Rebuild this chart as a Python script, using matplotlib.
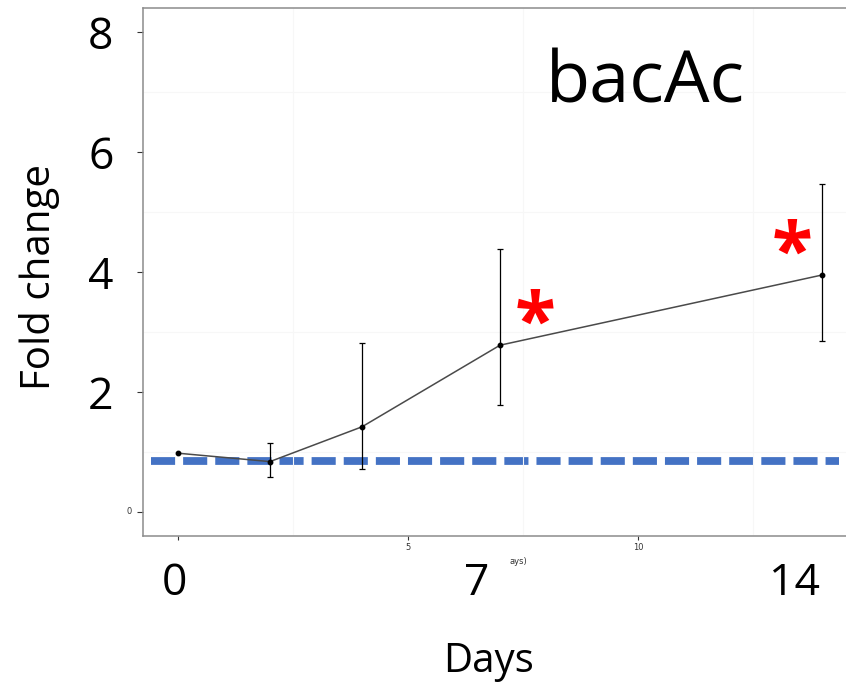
import numpy as np
import matplotlib
matplotlib.use('Agg')
import matplotlib.pyplot as plt

# Data
days = np.array([0, 2, 4, 7, 14])
fold = np.array([0.98, 0.84, 1.42, 2.78, 3.95])
err_lo = np.array([0.98, 0.58, 0.72, 1.78, 2.85])
err_hi = np.array([0.98, 1.15, 2.82, 4.38, 5.47])
baseline = 0.85

ytick_vals = [0, 2, 4, 6, 8]
ytick_big = ['', '2', '4', '6', '8']
xtick_vals = [0, 5, 10]
xtick_small = ['', '5', '10']
day_big = ['0', '7', '14']
day_big_pos = [-0.08, 6.5, 13.4]
star_pos = [(7.76, 3.10), (13.35, 4.26)]

BIG = 'Open Sans'

fig = plt.figure(figsize=(8.46, 6.85), dpi=100)
ax = fig.add_axes([143 / 846, 149 / 685, 703 / 846, 528 / 685])
ax.set_xlim(-0.76, 14.52)
ax.set_ylim(-0.4, 8.4)

# faint grid at half steps
ax.set_xticks([2.5, 7.5, 12.5], minor=True)
ax.set_yticks([1, 3, 5, 7], minor=True)
ax.grid(which='minor', color='#f7f7f7', linewidth=0.8)
ax.tick_params(which='minor', length=0)

# baseline
ax.plot([-0.59, 14.37], [baseline, baseline], color='#4472C4', linewidth=5.6,
        dashes=(3.1, 1.03), dash_capstyle='butt', zorder=1)

# series
ax.plot(days, fold, color='#4a4a4a', linewidth=1.1, zorder=3)
m = days > 0
ax.errorbar(days[m], fold[m], yerr=[fold[m] - err_lo[m], err_hi[m] - fold[m]],
            fmt='none', ecolor='black', elinewidth=0.9, capsize=2.5, capthick=0.9, zorder=4)
ax.plot(days, fold, 'o', color='black', markersize=3.2, zorder=5)

# spines
for s in ['left', 'bottom', 'top']:
    ax.spines[s].set_color('#8c8c8c')
    ax.spines[s].set_linewidth(1.1)
ax.spines['right'].set_visible(False)

# y ticks with large labels
ax.set_yticks(ytick_vals)
ax.set_yticklabels(ytick_big, fontsize=32, family=BIG)
ax.tick_params(axis='y', length=4.3, width=0.8, color='#333333', pad=17)
ax.text(-1.0, 0, '0', fontsize=6, ha='right', va='center', color='#333333')

# x ticks with small labels
ax.set_xticks(xtick_vals)
ax.set_xticklabels(xtick_small, fontsize=6, color='#333333')
ax.tick_params(axis='x', length=3, width=0.8, color='#333333', pad=2)
ax.text(7.4, -0.82, 'ays)', fontsize=6, ha='center', va='center', color='#333333')

# big day labels
for lab, xp in zip(day_big, day_big_pos):
    ax.text(xp, -1.38, lab, fontsize=32, family=BIG, ha='center', va='baseline', clip_on=False)

# stars
for xs, ys in star_pos:
    ax.text(xs, ys, '*', fontsize=54, family=BIG, fontweight='bold', color='red',
            ha='center', va='center')

ax.text(10.15, 6.83, 'bacAc', fontsize=52, family=BIG, ha='center', va='baseline')
fig.text(488 / 846, 13 / 685, 'Days', fontsize=29, family=BIG, ha='center', va='baseline')
fig.text(40 / 846, 1 - 277 / 685, 'Fold change', fontsize=29, family=BIG,
         rotation=90, ha='center', va='center')

fig.savefig('out.png', dpi=100)
